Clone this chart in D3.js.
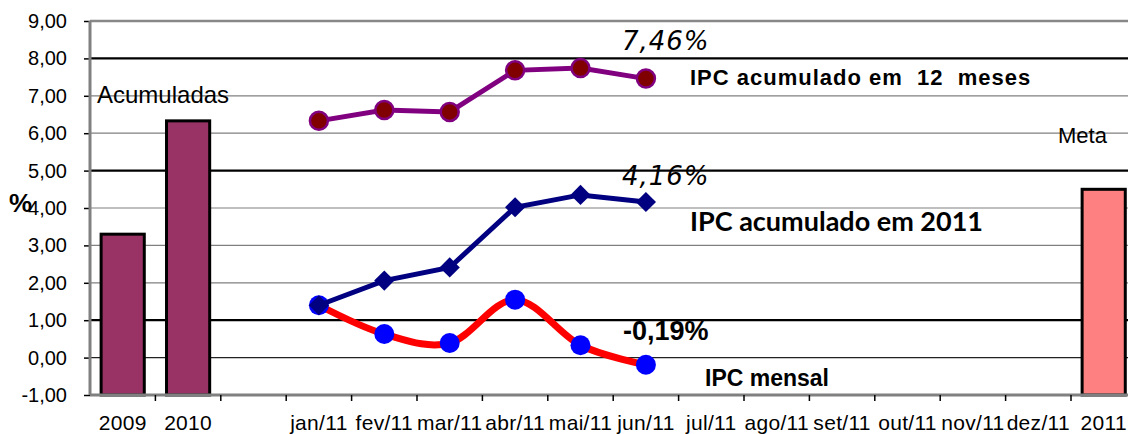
<!DOCTYPE html>
<html>
<head>
  <meta charset="utf-8">
  <style>
    body { margin: 0; background: #fff; }
    svg { display: block; font-family: "Liberation Sans", Arial, sans-serif; }
  </style>
</head>
<body>
  <div id="chart"></div>
  <script src="https://d3js.org/d3.v7.min.js"></script>
  <script>
    // categories on the x axis (the blank one is a spacer)
    var categories = ['2009', '2010', ' ', 'jan/11', 'fev/11', 'mar/11', 'abr/11', 'mai/11',
                      'jun/11', 'jul/11', 'ago/11', 'set/11', 'out/11', 'nov/11', 'dez/11', '2011'];
    var barYears = ['2009', '2010'];
    var barValues = [3.30, 6.33];
    var metaYear = '2011';
    var metaValue = 4.50;
    var months = ['jan/11', 'fev/11', 'mar/11', 'abr/11', 'mai/11', 'jun/11'];
    var ipc12Meses = [6.33, 6.62, 6.57, 7.68, 7.74, 7.46];
    var ipcAcum2011 = [1.40, 2.06, 2.41, 4.02, 4.35, 4.16];
    var ipcMensal = [1.40, 0.63, 0.39, 1.55, 0.33, -0.19];
    var yTicks = [-1, 0, 1, 2, 3, 4, 5, 6, 7, 8, 9];

    var width = 1128, height = 434;
    var plotLeft = 90, plotTop = 21, plotBottom = 395;

    var svg = d3.select('#chart').append('svg')
        .attr('width', width)
        .attr('height', height);

    var x = d3.scaleBand()
        .domain(categories)
        .range([plotLeft, plotLeft + 16 * 65.4])
        .padding(0);
    var bw = x.bandwidth();
    var cx = d => x(d) + bw / 2;

    var y = d3.scaleLinear()
        .domain([-1, 9])
        .range([plotBottom, plotTop]);

    var fmt = v => d3.format('.2f')(v).replace('.', ',').replace('\u2212', '-');

    // gridlines
    var strong = [8, 5, 1];
    svg.append('g').selectAll('line')
        .data(yTicks.filter(t => t > -1 && t < 9))
        .enter().append('line')
        .attr('x1', plotLeft).attr('x2', width)
        .attr('y1', d => y(d)).attr('y2', d => y(d))
        .attr('stroke', d => strong.includes(d) ? '#000' : (d === 0 ? '#222' : '#808080'))
        .attr('stroke-width', d => strong.includes(d) ? 2.2 : 1.2);

    // top border
    svg.append('line')
        .attr('x1', plotLeft).attr('x2', width)
        .attr('y1', y(9)).attr('y2', y(9))
        .attr('stroke', '#888').attr('stroke-width', 2.5);

    // y axis
    var yAxis = svg.append('g')
        .attr('transform', 'translate(' + plotLeft + ',0)')
        .call(d3.axisLeft(y).tickValues(yTicks).tickFormat(fmt).tickSize(6).tickPadding(17));
    yAxis.select('.domain').remove();
    yAxis.selectAll('.tick line').attr('stroke', '#000').attr('stroke-width', 1.5);
    yAxis.selectAll('text').attr('font-size', 20).attr('fill', '#000')
        .attr('font-family', '"Liberation Sans", Arial, sans-serif');
    svg.append('line')
        .attr('x1', plotLeft).attr('x2', plotLeft)
        .attr('y1', plotTop).attr('y2', plotBottom)
        .attr('stroke', '#808080').attr('stroke-width', 3);

    // bars from the -1 floor
    var bars = barYears.map((c, i) => ({c: c, v: barValues[i], fill: '#993366'}));
    bars.push({c: metaYear, v: metaValue, fill: '#FF8080'});
    svg.append('g').selectAll('rect')
        .data(bars)
        .enter().append('rect')
        .attr('x', d => x(d.c) + bw * 0.17)
        .attr('width', bw * 0.66)
        .attr('y', d => y(d.v))
        .attr('height', d => y(-1) - y(d.v))
        .attr('fill', d => d.fill)
        .attr('stroke', '#000')
        .attr('stroke-width', 3);

    // x axis
    svg.append('line')
        .attr('x1', plotLeft).attr('x2', width)
        .attr('y1', plotBottom).attr('y2', plotBottom)
        .attr('stroke', '#808080').attr('stroke-width', 3);
    svg.append('g').selectAll('line')
        .data(categories)
        .enter().append('line')
        .attr('x1', d => x(d) + bw).attr('x2', d => x(d) + bw)
        .attr('y1', plotBottom).attr('y2', plotBottom + 6)
        .attr('stroke', '#000').attr('stroke-width', 1.5);
    svg.append('g').selectAll('text')
        .data(categories)
        .enter().append('text')
        .attr('x', d => cx(d))
        .attr('y', 430)
        .attr('text-anchor', 'middle')
        .attr('font-size', 21)
        .attr('letter-spacing', 0.3)
        .text(d => d);

    // IPC acumulado em 12 meses
    var pts12 = months.map((m, i) => [cx(m), y(ipc12Meses[i])]);
    svg.append('path')
        .attr('d', d3.line()(pts12))
        .attr('fill', 'none').attr('stroke', '#800080').attr('stroke-width', 5);
    svg.append('g').selectAll('circle')
        .data(pts12).enter().append('circle')
        .attr('cx', d => d[0]).attr('cy', d => d[1]).attr('r', 9)
        .attr('fill', '#800000').attr('stroke', '#800080').attr('stroke-width', 2.5);

    // IPC mensal (smoothed)
    var ptsM = months.map((m, i) => [cx(m), y(ipcMensal[i])]);
    svg.append('path')
        .attr('d', d3.line().curve(d3.curveCatmullRom.alpha(0))(ptsM))
        .attr('fill', 'none').attr('stroke', '#FF0000').attr('stroke-width', 7);
    svg.append('g').selectAll('circle')
        .data(ptsM).enter().append('circle')
        .attr('cx', d => d[0]).attr('cy', d => d[1]).attr('r', 10)
        .attr('fill', '#0000FF');

    // IPC acumulado em 2011
    var ptsA = months.map((m, i) => [cx(m), y(ipcAcum2011[i])]);
    svg.append('path')
        .attr('d', d3.line()(ptsA))
        .attr('fill', 'none').attr('stroke', '#000080').attr('stroke-width', 5);
    svg.append('g').selectAll('path')
        .data(ptsA).enter().append('path')
        .attr('d', d3.symbol().type(d3.symbolDiamond2).size(260))
        .attr('transform', d => 'translate(' + d[0] + ',' + d[1] + ')')
        .attr('fill', '#000080');

    // annotations
    function label(tx, ty, txt, size, weight, style, family, spacing) {
      svg.append('text')
          .attr('x', tx).attr('y', ty)
          .attr('font-size', size)
          .attr('font-weight', weight || 'normal')
          .attr('font-style', style || 'normal')
          .attr('font-family', family || '"Liberation Sans", Arial, sans-serif')
          .attr('letter-spacing', spacing || 0)
          .text(txt);
    }
    var last = months[months.length - 1];
    label(cx(last) - 24, 50, fmt(ipc12Meses[5]) + '%', 26, 'normal', 'italic', '"DejaVu Sans"', 1);
    label(cx(last) - 24, 185, fmt(ipcAcum2011[5]) + '%', 26, 'normal', 'italic', '"DejaVu Sans"', 1);
    label(cx(last) - 23, 340, fmt(ipcMensal[5]) + '%', 27, 'bold');
    label(690, 85, 'IPC acumulado em\u00a0\u00a012\u00a0\u00a0meses', 22, 'bold', 'normal', null, 1);
    label(690, 231, 'IPC acumulado em 2011', 27, 'bold', 'normal', 'Lato');
    label(705, 386, 'IPC mensal', 23, 'bold');
    label(97, 103, 'Acumuladas', 24);
    label(1058, 143, 'Meta', 22);
    label(9, 212, '%', 26, 'bold');
  </script>
</body>
</html>
